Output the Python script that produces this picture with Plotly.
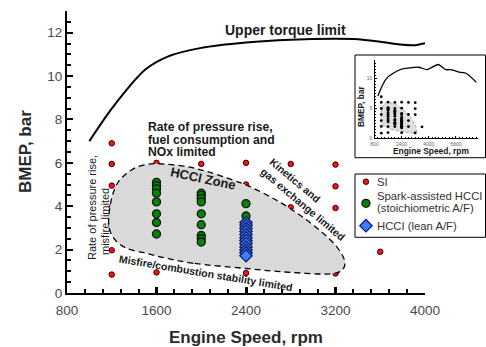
import plotly.graph_objects as go

W, H = 486, 347

# ---- data -------------------------------------------------------------
# upper torque (full-load) limit
torque_rpm = [1000, 1200, 1500, 1700, 2000, 2400, 2800, 3200, 3400, 3600, 3800, 3900, 4000]
torque_bmep = [7.0, 8.5, 10.3, 10.9, 11.3, 11.55, 11.68, 11.72, 11.7, 11.58, 11.44, 11.42, 11.52]

# SI operating points (the ones inside the HCCI zone sit under the shading)
si_rpm = [1200, 1200, 1200, 1200, 1200, 1200, 1200,
          1600, 1600, 1600, 1600, 1600, 1600,
          2000, 2000, 2000, 2000, 2000,
          2400, 2400, 2400, 2400, 2400, 2400,
          2800, 2800, 2800, 2800,
          3200, 3200, 3200, 3200, 3600]
si_bmep = [6.9, 5.95, 4.95, 3.95, 2.95, 1.97, 0.85,
           6.0, 4.95, 3.95, 2.95, 1.95, 0.95,
           5.95, 4.95, 3.95, 2.95, 1.95,
           6.0, 5.0, 3.95, 2.95, 1.95, 0.92,
           5.95, 3.95, 2.95, 1.95,
           5.92, 4.92, 3.92, 0.9, 1.9]

# spark-assisted HCCI, stoichiometric A/F
sa_rpm = [1600] * 8 + [2000] * 9 + [2400] * 3
sa_bmep = [5.1, 4.95, 4.8, 4.6, 4.2, 3.65, 3.25, 2.72,
           4.6, 4.5, 4.35, 4.2, 3.65, 3.15, 2.65, 2.5, 2.35,
           4.12, 3.55, 3.2]

# HCCI, lean A/F
lean_rpm = [2400] * 12
lean_bmep = [3.25, 3.12, 2.98, 2.85, 2.7, 2.55, 2.42, 2.28, 2.12, 1.98, 1.85, 1.72]

# boundary of the HCCI operating zone
zone_rpm = [2400, 1930, 1690, 1510, 1333, 1244, 1192, 1172, 1182, 1212, 1262, 1330, 1420,
            1520, 1600, 1870, 2050, 2285, 2400, 2640, 2880, 3090, 3210, 3270, 3285,
            3260, 3180, 2800, 2400]
zone_bmep = [1.13, 1.37, 1.6, 1.83, 2.06, 2.37, 2.75, 3.3, 3.9, 4.6, 5.15, 5.5, 5.8,
             5.93, 5.96, 5.83, 5.6, 5.2, 4.98, 4.37, 3.6, 2.75, 2.14, 1.65, 1.35,
             1.05, 0.9, 0.95, 1.13]

# full-range torque curve shown in the overview
full_rpm = [1000, 1200, 1500, 1900, 2400, 3000, 3400, 3900, 4550, 5000, 5300, 5800, 6200, 6800]
full_bmep = [7.0, 8.4, 9.9, 10.8, 11.5, 11.75, 11.8, 11.4, 12.25, 11.4, 11.4, 11.0, 10.8, 9.3]

x_ticks = [800, 1600, 2400, 3200, 4000]
y_ticks = [0, 2, 4, 6, 8, 10, 12]
inset_x_ticks = [800, 2400, 4000, 5600]
inset_y_ticks = [0, 5, 10]

legend_names = ["SI", "Spark-assisted HCCI", "(stoichiometric A/F)", "HCCI (lean A/F)"]

# ---- styling ----------------------------------------------------------
SANS = "Liberation Sans, Arial, Helvetica, sans-serif"
RED = dict(color="#ff1010", size=5.5, line=dict(color="#300000", width=1))
GREEN = dict(color="#0a800a", size=8, line=dict(color="#0b1a0b", width=1.3))
BLUE = dict(color="#3f7dff", size=9.5, symbol="diamond", line=dict(color="#0c1f6a", width=1.3))


def px(x):
    return x / W


def py(y):
    return 1 - y / H


fig = go.Figure()

# main panel
fig.add_trace(go.Scatter(x=si_rpm, y=si_bmep, mode="markers", marker=RED,
                         xaxis="x", yaxis="y"))
fig.add_trace(go.Scatter(x=zone_rpm, y=zone_bmep, mode="lines", fill="toself",
                         fillcolor="#d9d9d9",
                         line=dict(color="black", width=1.3, dash="6px,4px",
                                   shape="spline", smoothing=1.0),
                         xaxis="x", yaxis="y"))
fig.add_trace(go.Scatter(x=torque_rpm, y=torque_bmep, mode="lines",
                         line=dict(color="black", width=2, shape="spline", smoothing=0.8),
                         xaxis="x", yaxis="y"))
fig.add_trace(go.Scatter(x=sa_rpm, y=sa_bmep, mode="markers", marker=GREEN,
                         xaxis="x", yaxis="y"))
fig.add_trace(go.Scatter(x=lean_rpm, y=lean_bmep, mode="markers", marker=BLUE,
                         xaxis="x", yaxis="y"))

# overview panel
fig.add_trace(go.Scatter(x=zone_rpm, y=zone_bmep, mode="lines", fill="toself",
                         fillcolor="rgba(200,200,200,0.6)",
                         line=dict(color="#999", width=0.8, dash="3px,2px",
                                   shape="spline"),
                         xaxis="x2", yaxis="y2"))
dot = dict(color="black", size=2.8)
for xs, ys in [(si_rpm, si_bmep), (sa_rpm, sa_bmep), (lean_rpm, lean_bmep)]:
    fig.add_trace(go.Scatter(x=xs, y=ys, mode="markers", marker=dot,
                             xaxis="x2", yaxis="y2"))
fig.add_trace(go.Scatter(x=full_rpm, y=full_bmep, mode="lines",
                         line=dict(color="black", width=1.3, shape="spline", smoothing=0.6),
                         xaxis="x2", yaxis="y2"))

# legend symbols (own unit axes laid over the legend box)
leg_x = 0.084
for mk, yy in [(RED, 0.878), (GREEN, 0.537), (BLUE, 0.183)]:
    fig.add_trace(go.Scatter(x=[leg_x], y=[yy], mode="markers", marker=mk,
                             xaxis="x3", yaxis="y3"))

for tr in fig.data:
    tr.showlegend = False
    tr.hoverinfo = "skip"

# ---- axes -------------------------------------------------------------
main_x_dom = [px(67), px(425)]
main_y_dom = [py(293), py(11)]
ins_x_dom = [px(374.5), px(478)]
ins_y_dom = [py(138.3), py(60)]
leg_x_dom = [px(355), px(485.5)]
leg_y_dom = [py(237.3), py(174)]

tickfont = dict(family=SANS, size=13.5, color="#4a4a4a")
fig.update_layout(
    width=W, height=H,
    margin=dict(l=0, r=0, t=0, b=0, autoexpand=False),
    paper_bgcolor="white", plot_bgcolor="rgba(0,0,0,0)",
    xaxis=dict(domain=main_x_dom, range=[800, 4000], tickvals=x_ticks, automargin=False,
               showgrid=False, zeroline=False, showline=True, linecolor="black",
               linewidth=2, ticks="inside", ticklen=6, tickwidth=3, tickcolor="black",
               tickfont=tickfont, ticklabelstandoff=4, anchor="y",
               minor=dict(dtick=160, ticks="inside", ticklen=4, tickwidth=1.5,
                          tickcolor="black", showgrid=False)),
    yaxis=dict(domain=main_y_dom, range=[0, 13], tickvals=y_ticks, automargin=False,
               showgrid=False, zeroline=False, showline=True, linecolor="black",
               linewidth=2, ticks="inside", ticklen=6, tickwidth=1.5, tickcolor="black",
               tickfont=tickfont, anchor="x",
               minor=dict(dtick=0.5, ticks="inside", ticklen=4, tickwidth=1.5,
                          tickcolor="black", showgrid=False)),
    xaxis2=dict(domain=ins_x_dom, range=[800, 6900], tickvals=inset_x_ticks,
                automargin=False,
                showgrid=False, zeroline=False, showline=True, linecolor="black",
                linewidth=1.3, ticks="inside", ticklen=2, tickwidth=1, tickcolor="black",
                tickfont=dict(family=SANS, size=5, color="#666"), anchor="y2",
                ticklabelstandoff=1,
                minor=dict(dtick=200, ticks="inside", ticklen=1.5, tickwidth=1,
                           tickcolor="black", showgrid=False)),
    yaxis2=dict(domain=ins_y_dom, range=[0, 13], tickvals=inset_y_ticks,
                automargin=False,
                showgrid=False, zeroline=False, showline=True, linecolor="black",
                linewidth=1.3, ticks="inside", ticklen=2, tickwidth=1, tickcolor="black",
                tickfont=dict(family=SANS, size=5, color="#666"), anchor="x2",
                minor=dict(dtick=0.5, ticks="inside", ticklen=1.5, tickwidth=1,
                           tickcolor="black", showgrid=False)),
    xaxis3=dict(domain=leg_x_dom, range=[0, 1], visible=False, anchor="y3",
                automargin=False),
    yaxis3=dict(domain=leg_y_dom, range=[0, 1], visible=False, anchor="x3",
                automargin=False),
)

# frames of the overview and legend
fig.add_shape(type="rect", xref="paper", yref="paper", x0=px(355), x1=px(485.5),
              y0=py(157.7), y1=py(55), line=dict(color="black", width=1),
              fillcolor="white", layer="below")
fig.add_shape(type="rect", xref="paper", yref="paper", x0=px(355), x1=px(485.5),
              y0=py(237.3), y1=py(174), line=dict(color="black", width=1),
              fillcolor="white", layer="below")


def label(text, x, y, size, bold=True, angle=0, xanchor="center", color="#1a1a1a"):
    fig.add_annotation(text=text, x=px(x), y=py(y), xref="paper", yref="paper",
                       showarrow=False, textangle=angle, xanchor=xanchor,
                       yanchor="middle",
                       font=dict(family=SANS, size=size, color=color,
                                 weight="bold" if bold else "normal"))


# axis titles
label("BMEP, bar", 25, 152, 17, angle=-90, color="#2a2a2a")
label("Engine Speed, rpm", 246, 337, 17, color="#2a2a2a")

# region annotations
label("Upper torque limit", 285, 30, 14)
label("Rate of pressure rise,", 146, 127, 12.2, xanchor="left")
label("fuel consumption and", 146, 139.5, 12.2, xanchor="left")
label("NOx limited", 146, 152, 12.2, xanchor="left")
label("HCCI Zone", 203, 178, 13, angle=12)
label("Kinetics and", 295, 180, 10.5, angle=40)
label("gas exchange limited", 303, 204, 10.5, angle=40)
label("Misfire/combustion stability limited", 206, 273, 10.5, angle=9.5)
label("Rate of pressure rise,", 92, 208, 11, bold=False, angle=-90)
label("misfire limited", 104.5, 221.5, 11, bold=False, angle=-90)

# overview titles
label("BMEP, bar", 361, 106, 8.4, angle=-90)
label("Engine Speed, rpm", 431, 151, 8.4)

# legend text
label(legend_names[0], 375, 181.7, 11.3, bold=False, xanchor="left", color="#333")
label(legend_names[1], 375, 196, 11.3, bold=False, xanchor="left", color="#333")
label(legend_names[2], 375, 207.5, 11.3, bold=False, xanchor="left", color="#333")
label(legend_names[3], 375, 225.7, 11.3, bold=False, xanchor="left", color="#333")

fig.write_html("out.html")
